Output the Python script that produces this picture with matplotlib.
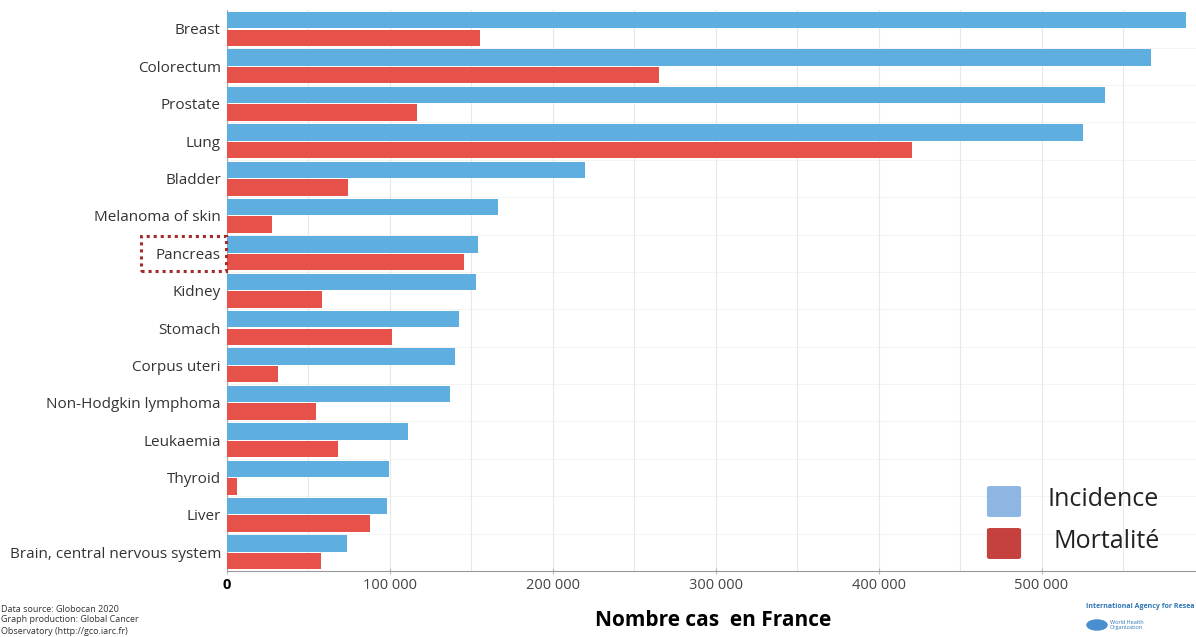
import matplotlib
matplotlib.use("Agg")
import matplotlib.pyplot as plt
from matplotlib.patches import Rectangle, FancyBboxPatch
from matplotlib.ticker import MultipleLocator
import numpy as np

categories = ["Breast", "Colorectum", "Prostate", "Lung", "Bladder", "Melanoma of skin",
              "Pancreas", "Kidney", "Stomach", "Corpus uteri", "Non-Hodgkin lymphoma",
              "Leukaemia", "Thyroid", "Liver", "Brain, central nervous system"]
incidence = [588700, 567200, 539000, 525500, 220000, 166600, 154300, 153100, 142600,
             140400, 136900, 111100, 99900, 98500, 73700]
mortality = [155500, 265300, 116900, 420600, 74500, 27900, 145700, 58400, 101300,
             31800, 54900, 68600, 6200, 88200, 58000]
xticks = [0, 100000, 200000, 300000, 400000, 500000]
xtick_labels = ["0", "100 000", "200 000", "300 000", "400 000", "500 000"]

plt.rcParams['font.family'] = ['Open Sans', 'DejaVu Sans']

W, H = 1196, 637
fig = plt.figure(figsize=(W / 100, H / 100), dpi=100)
ax_left = 226.5 / W
ax_bottom = 1 - 571 / H
ax_top = 1 - 10.3 / H
ax = fig.add_axes([ax_left, ax_bottom, 1 - ax_left, ax_top - ax_bottom])

blue = "#5EAEDF"
red = "#E6524A"
y = np.arange(len(categories))
ax.barh(y - 0.235, incidence, height=0.44, color=blue, zorder=3)
ax.barh(y + 0.235, mortality, height=0.44, color=red, zorder=3)

ax.set_ylim(len(categories) - 0.5, -0.5)
ax.set_xlim(0, (W - 226.5) / 163.0 * 100000)

ax.set_yticks(y)
ax.set_yticklabels(categories, fontsize=11, color="#333333")
ax.tick_params(axis='y', length=0, pad=4)

ax.set_xticks(xticks)
ax.set_xticklabels(xtick_labels, fontsize=10.5, color="#444444")
ax.get_xticklabels()[0].set_fontweight("bold")
ax.get_xticklabels()[0].set_color("black")
ax.tick_params(axis='x', length=4, width=0.8, color="#bbbbbb", direction='inout', pad=3)
ax.xaxis.set_minor_locator(MultipleLocator(50000))
ax.tick_params(axis='x', which='minor', length=0)
ax.grid(axis='x', which='both', color="#e8e8e8", linewidth=0.8, zorder=0)
for b in np.arange(0.5, len(categories) - 0.5, 1.0):
    ax.axhline(b, color="#f2f2f2", linewidth=0.6, zorder=0)

for s in ["top", "right"]:
    ax.spines[s].set_visible(False)
ax.spines["left"].set_color("#aaaaaa")
ax.spines["left"].set_linewidth(0.8)
ax.spines["bottom"].set_color("#999999")
ax.spines["bottom"].set_linewidth(0.8)

# x label
fig.text(713 / W, 1 - 621 / H, "Nombre cas  en France", fontsize=15, fontweight="bold",
         ha="center", va="center", color="black")

# Pancreas dotted box
box = Rectangle((141 / W, 1 - 271 / H), (226 - 141) / W, (271 - 236) / H,
                transform=fig.transFigure, fill=False, edgecolor="#A52A2A",
                linestyle=(0, (1, 1.3)), linewidth=2.2, zorder=10)
fig.add_artist(box)

# Legend (manual)
for (y0, col, lab, tx) in [(484, "#8DB6E3", "Incidence", 1047), (526, "#C4413E", "Mortalité", 1054)]:
    p = FancyBboxPatch(((988 + 2) / W, 1 - (y0 + 31) / H), 28 / W, 27 / H,
                       boxstyle="round,pad=0.002", transform=fig.transFigure,
                       facecolor=col, edgecolor=col, zorder=10)
    fig.add_artist(p)
    fig.text(tx / W, 1 - (y0 + 16) / H, lab, fontsize=18, color="#222222",
             ha="left", va="center", zorder=11)

# Source text bottom-left
src = ["Data source: Globocan 2020", "Graph production: Global Cancer",
       "Observatory (http://gco.iarc.fr)"]
for i, t in enumerate(src):
    fig.text(1 / W, 1 - (609 + i * 11) / H, t, fontsize=6.5, color="#333333",
             ha="left", va="center")

# Bottom-right logos text
fig.text(1086 / W, 1 - 607 / H, "International Agency for Resea", fontsize=5,
         color="#2E75B6", ha="left", va="center", fontweight="bold")
fig.text(1110 / W, 1 - 625 / H, "World Health\nOrganization", fontsize=4, color="#2E75B6",
         ha="left", va="center", linespacing=1.0)
fig.add_artist(plt.Circle((1097 / W, 1 - 625 / H), 0.009, transform=fig.transFigure,
                          facecolor="#4A8FD0", edgecolor="none"))

fig.savefig("out.png", dpi=100)
